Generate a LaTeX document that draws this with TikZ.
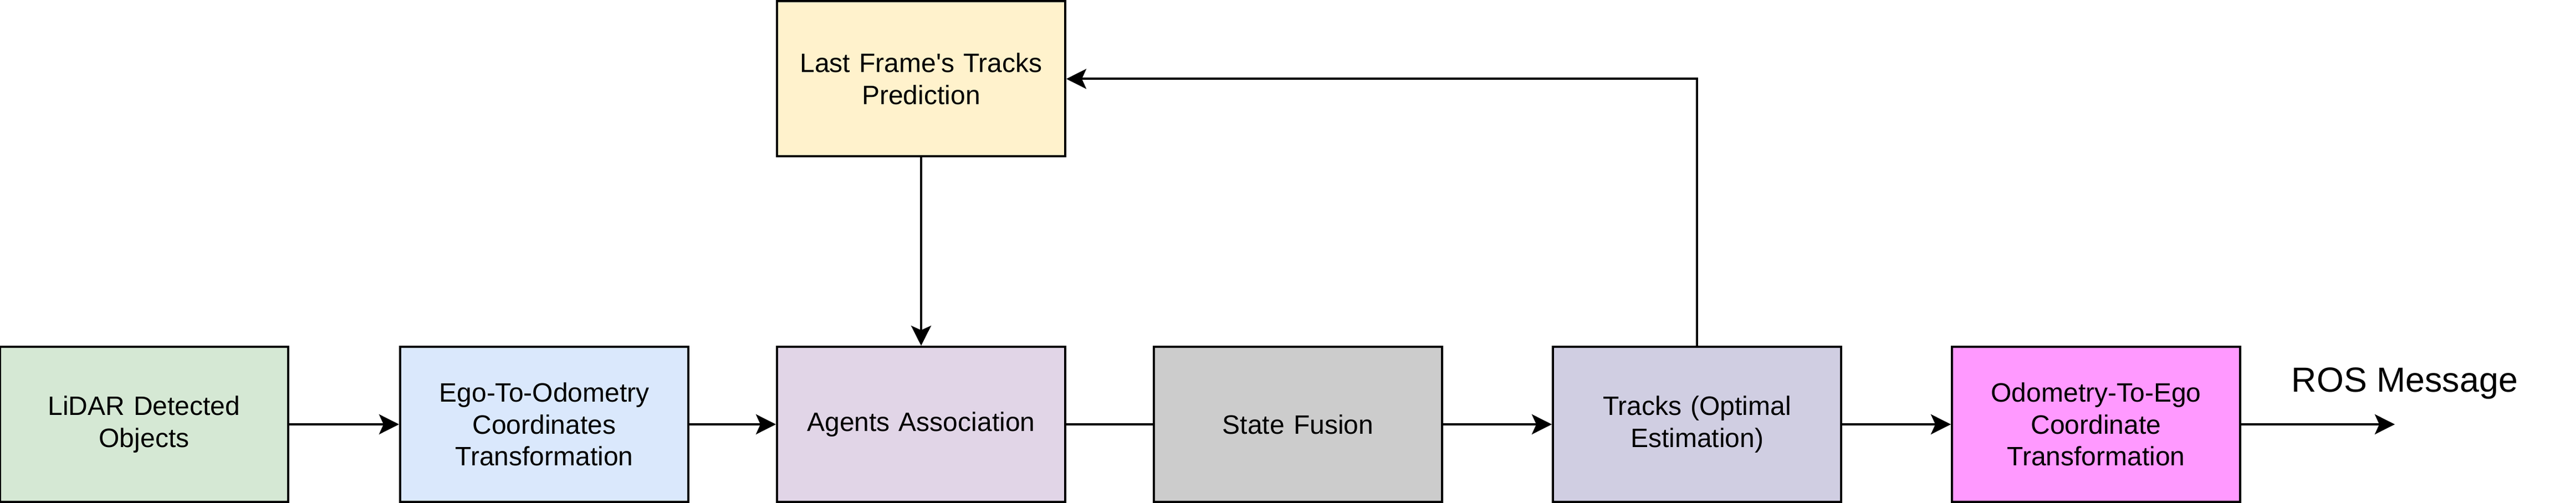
\documentclass[tikz,border=0pt]{standalone}
\usepackage{fontspec}
\setmainfont{Liberation Sans}
\newfontfamily\straightfont{Liberation Sans}
\usetikzlibrary{arrows.meta}
\definecolor{cgreen}{HTML}{D5E8D4}
\definecolor{cblue}{HTML}{DAE8FC}
\definecolor{cpurple}{HTML}{E1D5E7}
\definecolor{cyellow}{HTML}{FFF2CC}
\definecolor{cgray}{HTML}{CCCCCC}
\definecolor{clav}{HTML}{D0CEE2}
\definecolor{cpink}{HTML}{FF99FF}
\begin{document}
\begin{tikzpicture}[x=1pt,y=-1pt,
  blk/.style={draw=black, line width=1pt, minimum width=130pt, minimum height=70pt,
    inner sep=0pt, align=center, text width=124pt, font=\fontsize{12}{14.4}\selectfont},
  conn/.style={line width=1pt, draw=black},
  arr/.style={conn, -{Stealth[length=9pt, width=9pt, inset=2pt]}}]
\useasboundingbox (0,0) rectangle (1162,227);
\node[blk, fill=cgreen]  (lidar)  at (65,191.5)    {LiDAR Detected\\Objects};
\node[blk, fill=cblue]   (ego)    at (245.5,191.5) {Ego-To-Odometry\\Coordinates\\Transformation};
\node[blk, fill=cpurple] (agents) at (415.5,191.5) {Agents Association};
\node[blk, fill=cyellow] (last)   at (415.5,35.6)  {\straightfont Last Frame's Tracks\\Prediction};
\node[blk, fill=cgray]   (fusion) at (585.5,191.5) {State Fusion};
\node[blk, fill=clav]    (tracks) at (765.5,191.5) {Tracks (Optimal\\Estimation)};
\node[blk, fill=cpink]   (odo)    at (945.5,191.5) {Odometry-To-Ego\\Coordinate\\Transformation};
\coordinate (out) at (1080.25,191.5);
\node[anchor=base west, inner sep=0pt, font=\fontsize{15.7}{18}\selectfont] (ros) at (1033.5,176.75) {ROS Message};
\draw[arr] (lidar) -- (ego);
\draw[arr] (ego) -- (agents);
\draw[arr] (last) -- (agents);
\draw[conn] (agents) -- (fusion);
\draw[arr] (fusion) -- (tracks);
\draw[arr] (tracks) -- (odo);
\draw[arr] (odo) -- (out);
\draw[arr] (tracks.north) |- (last.east);
\end{tikzpicture}
\end{document}
